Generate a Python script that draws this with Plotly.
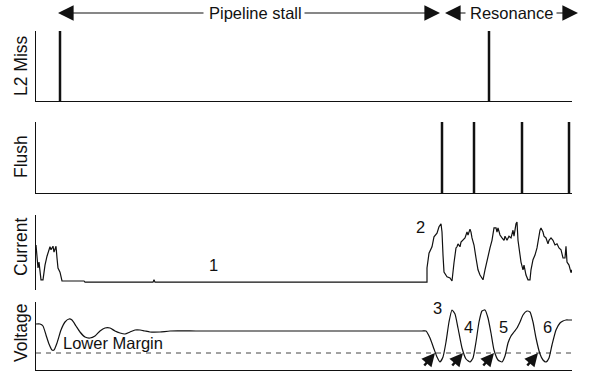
import plotly.graph_objects as go

# ---------------- data (time in cycles) ----------------
l2_miss_t = [24, 453]
flush_t = [406, 438, 486, 533]

current_t = [0, 1, 2, 3, 4, 5, 7, 9, 11, 13, 14, 15, 17, 18, 19, 20, 21, 22, 24, 25, 26,
             48, 49, 117, 118, 119, 391,
             391, 393, 396, 398, 401, 403, 405, 406, 407, 408, 411, 414, 416, 417, 418, 420,
             421, 422, 424, 425, 427, 429, 431, 432, 434, 435, 436, 438, 440, 442, 444, 447,
             449, 451, 452, 454, 456, 457, 458, 460, 461, 462, 464, 466, 468, 469, 471, 473,
             475, 477, 478, 480, 481, 482, 483, 485, 487, 488, 490, 492, 494, 495, 497, 499,
             501, 502, 504, 505, 507, 508, 510, 512, 513, 515, 517, 519, 521, 523, 525, 527,
             529, 530, 531, 533, 535, 536]
current_v = [0.61, 0.44, 0.22, 0.32, 0.15, 0.02, 0.02, 0.27, 0.42, 0.53, 0.58, 0.53, 0.59,
             0.49, 0.54, 0.59, 0.39, 0.22, 0.15, 0.05, 0.0,
             0.0, -0.02, -0.02, 0.02, -0.02, -0.02,
             0.22, 0.47, 0.58, 0.75, 0.81, 0.92, 0.97, 0.83, 0.44, 0.15, 0.07, 0.05, 0.0, 0.19,
             0.31, 0.56, 0.58, 0.63, 0.58, 0.66, 0.69, 0.73, 0.83, 0.78, 0.88, 0.83, 0.73, 0.61,
             0.39, 0.19, 0.10, 0.02, 0.19, 0.36, 0.44, 0.56, 0.69, 0.83, 0.90, 0.90, 0.83, 0.90,
             0.78, 0.73, 0.69, 0.76, 0.69, 0.76, 0.73, 0.86, 0.76, 0.97, 1.00, 0.69, 0.53, 0.32,
             0.19, 0.27, 0.10, 0.02, 0.02, 0.19, 0.36, 0.44, 0.56, 0.69, 0.86, 0.90, 0.83, 0.76,
             0.73, 0.63, 0.69, 0.73, 0.69, 0.61, 0.63, 0.56, 0.53, 0.39, 0.39, 0.59, 0.32, 0.27,
             0.14, 0.19]

voltage_t = [0, 4, 7, 10, 13, 16, 18, 21, 25, 29, 33, 36, 40, 44, 49, 54, 59, 64, 69, 74,
             79, 84, 89, 94, 99, 104, 109, 114, 124, 134, 160, 200, 250, 300, 350, 386, 390,
             394, 398, 401, 404, 407, 410, 413, 416, 419, 422, 426, 430, 434, 437, 440, 443,
             446, 449, 452, 455, 458, 462, 466, 469, 472, 475, 478, 481, 484, 487, 491, 494,
             497, 500, 504, 507, 510, 513, 516, 520, 524, 527, 530, 533, 536]
voltage_v = [1.014, 1.014, 1.010, 0.992, 0.974, 0.962, 0.962, 0.976, 1.002, 1.018, 1.024,
             1.022, 1.010, 0.998, 0.988, 0.986, 0.990, 1.000, 1.006, 1.006, 1.000, 0.996,
             0.994, 0.998, 1.002, 1.002, 1.000, 0.998, 0.998, 1.000, 1.000, 1.000, 1.000,
             1.000, 1.000, 1.000, 1.000,
             0.986, 0.964, 0.948, 0.938, 0.948, 0.978, 1.018, 1.042, 1.034, 1.006, 0.966,
             0.944, 0.938, 0.946, 0.978, 1.018, 1.040, 1.042, 1.026, 0.996, 0.962, 0.942,
             0.938, 0.950, 0.976, 0.990, 0.998, 1.006, 1.018, 1.032, 1.040, 1.038, 1.018,
             0.986, 0.954, 0.942, 0.938, 0.946, 0.972, 1.002, 1.016, 1.020, 1.022, 1.022,
             1.022]
lower_margin = 0.956

region_labels = ["Pipeline stall", "Resonance"]
panel_titles = ["L2 Miss", "Flush", "Current", "Voltage"]
current_marks = [("1", 177, 0.27), ("2", 384, 0.92)]
voltage_marks = [("3", 401, 1.046), ("4", 432, 1.008), ("5", 467, 1.008), ("6", 511, 1.008)]
violation_t = [399, 427, 458, 502]

# ---------------- figure ----------------
W, H = 592, 374
L, R = 36, 20
FONT = "Liberation Sans, Arial, Helvetica, sans-serif"
INK = "#111111"


def spikes(ts):
    xs, ys = [], []
    for t in ts:
        xs += [t, t, None]
        ys += [0, 1, None]
    return xs, ys


fig = go.Figure()
x1, y1 = spikes(l2_miss_t)
fig.add_trace(go.Scatter(x=x1, y=y1, mode="lines", line=dict(color=INK, width=2.5),
                         xaxis="x", yaxis="y", hoverinfo="skip"))
x2, y2 = spikes(flush_t)
fig.add_trace(go.Scatter(x=x2, y=y2, mode="lines", line=dict(color=INK, width=2.5),
                         xaxis="x2", yaxis="y2", hoverinfo="skip"))
fig.add_trace(go.Scatter(x=current_t, y=current_v, mode="lines", line=dict(color=INK, width=1.2),
                         xaxis="x3", yaxis="y3"))
fig.add_trace(go.Scatter(x=[0, 536], y=[lower_margin, lower_margin], mode="lines",
                         line=dict(color="#444444", width=1, dash="5px,5px"),
                         xaxis="x4", yaxis="y4"))
fig.add_trace(go.Scatter(x=voltage_t, y=voltage_v, mode="lines",
                         line=dict(color=INK, width=1.2, shape="spline", smoothing=0.5),
                         xaxis="x4", yaxis="y4"))


def dom(top_px, bot_px):
    return [1 - bot_px / H, 1 - top_px / H]


xr = [0, 536]
common_x = dict(range=xr, showgrid=False, zeroline=False, showticklabels=False, ticks="",
                linecolor=INK, linewidth=1.3)
common_y = dict(showgrid=False, zeroline=False, showticklabels=False, ticks="",
                showline=True, linecolor=INK, linewidth=1.1)

fig.update_layout(
    width=W, height=H, margin=dict(l=L, r=R, t=0, b=0),
    paper_bgcolor="white", plot_bgcolor="white", showlegend=False,
    font=dict(family=FONT, size=16.5, color=INK),
    xaxis=dict(common_x, anchor="y", showline=True),
    xaxis2=dict(common_x, anchor="y2", showline=True),
    xaxis3=dict(common_x, anchor="y3", showline=False),
    xaxis4=dict(common_x, anchor="y4", showline=True),
    yaxis=dict(common_y, domain=dom(31, 101), range=[0, 1], anchor="x"),
    yaxis2=dict(common_y, domain=dom(122, 193), range=[0, 1], anchor="x2"),
    yaxis3=dict(common_y, domain=dom(215, 290), range=[-0.153, 1.119], anchor="x3"),
    yaxis4=dict(common_y, domain=dom(302, 370), range=[0.922, 1.058], anchor="x4"),
)

ann = []
# panel titles
for title, cy in zip(panel_titles, [66, 157, 247, 333]):
    ann.append(dict(text=title, xref="paper", yref="paper", x=(21 - L) / (W - L - R),
                    y=1 - cy / H, textangle=-90, showarrow=False, font=dict(size=17.5),
                    xanchor="center", yanchor="middle"))

# top region arrows
ytop = 1 - 13 / H
px = lambda p: (p - L) / (W - L - R)
ann.append(dict(text=region_labels[0], xref="paper", yref="paper", x=px(255), y=ytop,
                showarrow=False, xanchor="center", yanchor="middle"))
ann.append(dict(text=region_labels[1], xref="paper", yref="paper", x=px(511), y=ytop,
                showarrow=False, xanchor="center", yanchor="middle"))
for tip, off in [(58, 147), (440, -137), (445, 22), (578, -23)]:
    ann.append(dict(text="", xref="paper", yref="paper", x=px(tip), y=ytop,
                    ax=off, ay=0, showarrow=True, arrowhead=2, arrowsize=2.6,
                    arrowwidth=1.2, arrowcolor=INK))

# current labels
for txt, t, v in current_marks:
    ann.append(dict(text=txt, xref="x3", yref="y3", x=t, y=v, showarrow=False))
# voltage labels
for txt, t, v in voltage_marks:
    ann.append(dict(text=txt, xref="x4", yref="y4", x=t, y=v, showarrow=False))
ann.append(dict(text="Lower Margin", xref="x4", yref="y4", x=77, y=0.976, showarrow=False))
for t in violation_t:
    ann.append(dict(text="", xref="x4", yref="y4", x=t, y=lower_margin, ax=-12, ay=14,
                    showarrow=True, arrowhead=2, arrowsize=1.1, arrowwidth=2.4,
                    arrowcolor=INK))

fig.update_layout(annotations=ann)
fig.write_html("out.html")
